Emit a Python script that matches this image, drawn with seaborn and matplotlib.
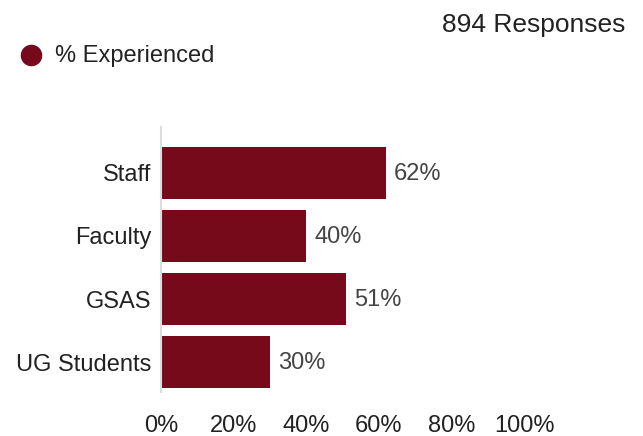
import matplotlib
matplotlib.use("Agg")
import matplotlib.pyplot as plt
from matplotlib.lines import Line2D
import seaborn as sns
import pandas as pd

groups = ["Staff", "Faculty", "GSAS", "UG Students"]
pct_experienced = [62, 40, 51, 30]
x_ticks = [0, 20, 40, 60, 80, 100]
x_tick_labels = ["0%", "20%", "40%", "60%", "80%", "100%"]
series_name = "% Experienced"
responses_text = "894 Responses"

bar_color = "#770a1a"
label_color = "#222222"
value_color = "#444444"
fs = 17

sns.set_theme(style="white")
plt.rcParams["font.family"] = ["Liberation Sans", "DejaVu Sans"]

df = pd.DataFrame({"group": groups, "pct": pct_experienced})

W, H = 643, 436
fig = plt.figure(figsize=(W / 100, H / 100), dpi=100)
ax = fig.add_axes([161 / W, 1 - 392 / H, (524 - 161) / W, (392 - 127) / H])

sns.barplot(data=df, y="group", x="pct", orient="h", color=bar_color,
            saturation=1, width=0.825, linewidth=0, ax=ax)

ax.set_xlim(0, 100)
ax.set_ylim(3.476, -0.73)
ax.set_xticks(x_ticks)
ax.set_xticklabels(x_tick_labels)
ax.set_xlabel("")
ax.set_ylabel("")
ax.tick_params(axis="x", labelsize=fs, colors=label_color, length=0, pad=16.5)
ax.tick_params(axis="y", labelsize=fs, colors=label_color, length=0, pad=7)

for s in ["top", "right", "bottom"]:
    ax.spines[s].set_visible(False)
ax.spines["left"].set_color("#dddddd")
ax.spines["left"].set_linewidth(1.5)

for i, v in enumerate(pct_experienced):
    ax.text(v + 2.2, i + 0.02, f"{v}%", va="center", ha="left",
            fontsize=fs, color=value_color)

# header: legend entry and response count
fig.add_artist(Line2D([31 / W], [1 - 55 / H], marker="o", linestyle="none",
                      markersize=14.5, color=bar_color,
                      transform=fig.transFigure))
fig.text(55 / W, 1 - 56 / H, series_name, ha="left", va="center",
         fontsize=fs, color=label_color)
fig.text(625 / W, 1 - 25 / H, responses_text, ha="right", va="center",
         fontsize=19, color=label_color)

fig.savefig("out.png", dpi=100)
